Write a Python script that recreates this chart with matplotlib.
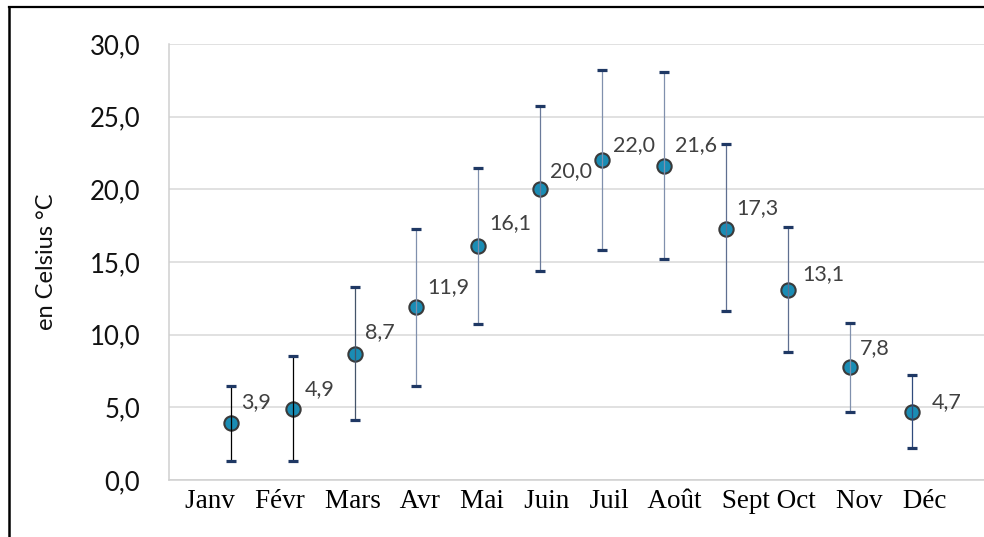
import matplotlib
matplotlib.use("Agg")
import matplotlib.pyplot as plt
from matplotlib.lines import Line2D

# ---- data ----
months = ["Janv", "Févr", "Mars", "Avr", "Mai", "Juin", "Juil", "Août", "Sept", "Oct", "Nov", "Déc"]
t_mean = [3.9, 4.9, 8.7, 11.9, 16.1, 20.0, 22.0, 21.6, 17.3, 13.1, 7.8, 4.7]
t_max = [6.5, 8.5, 13.3, 17.3, 21.5, 25.7, 28.2, 28.1, 23.1, 17.4, 10.8, 7.2]
t_min = [1.3, 1.3, 4.1, 6.5, 10.7, 14.4, 15.8, 15.2, 11.6, 8.8, 4.7, 2.2]
y_ticks = [0, 5, 10, 15, 20, 25, 30]
y_title = "en Celsius °C"

# ---- style ----
W, H = 984, 537
DPI = 100
# label offsets (pixels) relative to marker: (dx, dy_baseline)
label_offsets = [(10, -15), (12, -14), (10, -15), (11, -14), (11, -17), (10, -12),
                 (11, -9), (11, -15), (10, -14), (14, -10), (10, -13), (20, -4)]
err_line_colors = ["#000000", "#000000", "#44546a", "#8090ad", "#8090ad", "#6a7a9a",
                   "#8090ad", "#8090ad", "#5f6f90", "#5f6f90", "#8090ad", "#2f4a7c"]
cap_color = "#1f3864"

fig = plt.figure(figsize=(W / DPI, H / DPI), dpi=DPI)
fig.patch.set_facecolor("white")

ax_left, ax_right = 169.3, 1000.0
ax_top, ax_bottom = 44.0, 480.0
ax = fig.add_axes([ax_left / W, 1 - ax_bottom / H, (ax_right - ax_left) / W, (ax_bottom - ax_top) / H])

x = list(range(1, len(months) + 1))
px_per_unit = 61.93
x_lo = 1 - (230.7 - ax_left) / px_per_unit
x_hi = x_lo + (ax_right - ax_left) / px_per_unit
ax.set_xlim(x_lo, x_hi)
ax.set_ylim(0, 30)

ax.grid(axis="y", color="#d9d9d9", lw=1.1, zorder=0)
ax.set_axisbelow(True)
for s in ["top", "right"]:
    ax.spines[s].set_visible(False)
for s in ["left", "bottom"]:
    ax.spines[s].set_color("#d0d0d0")
    ax.spines[s].set_linewidth(1.1)

ax.set_yticks(y_ticks)
ax.set_yticklabels([f"{v:.1f}".replace(".", ",") for v in y_ticks],
                   fontfamily="Lato", fontsize=18.5, color="#111111")
ax.tick_params(axis="y", length=0, pad=21)
ax.set_xticks([])

ax.set_ylabel(y_title, fontfamily="Lato", fontsize=17, color="#111111", labelpad=0)
ax.yaxis.set_label_coords((57 - ax_left) / (ax_right - ax_left), 0.5)

# markers
ax.plot(x, t_mean, linestyle="none", marker="o", markersize=10.3,
        markerfacecolor="#1a8cb4", markeredgecolor="#3a3a3a", markeredgewidth=1.5, zorder=3)

# error bars (lines on top of markers)
for xi, m, lo, hi, c in zip(x, t_mean, t_min, t_max, err_line_colors):
    cont = ax.errorbar([xi], [m], yerr=[[m - lo], [hi - m]], fmt="none", ecolor=c, elinewidth=0.9,
                       capsize=3.3, capthick=2.3, zorder=4)
    for cp in cont.lines[1]:
        cp.set_markeredgecolor(cap_color)
        cp.set_markerfacecolor(cap_color)
        cp.set_color(cap_color)

# data labels
for xi, m, (dx, dy) in zip(x, t_mean, label_offsets):
    ax.annotate(f"{m:.1f}".replace(".", ","), (xi, m), xytext=(dx, -dy),
                textcoords="offset pixels", ha="left", va="baseline",
                fontfamily="Lato", fontsize=15.5, color="#404040", zorder=5)

# x category labels as a single text line
label_line = "   ".join(months[:8]) + "   " + months[8] + " " + "   ".join(months[9:])
fig.text(185 / W, 1 - 508 / H, label_line, ha="left", va="baseline",
         fontfamily="Liberation Serif", fontsize=19.5, color="#000000")

# outer frame (top and left edges visible)
fig.add_artist(Line2D([9 / W, 1.05], [1 - 7 / H, 1 - 7 / H], color="black", lw=1.6,
                      transform=fig.transFigure))
fig.add_artist(Line2D([9 / W, 9 / W], [1 - 7 / H, -0.05], color="black", lw=1.8,
                      transform=fig.transFigure))

fig.savefig("out.png", dpi=DPI)
